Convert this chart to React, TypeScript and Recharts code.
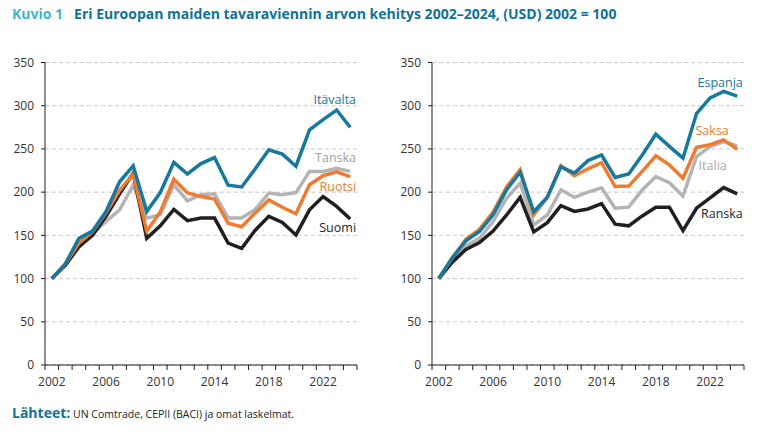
import { LineChart, Line, XAxis, YAxis, CartesianGrid, ReferenceDot } from "recharts";

const years = [
  2002, 2003, 2004, 2005, 2006, 2007, 2008, 2009, 2010, 2011, 2012, 2013,
  2014, 2015, 2016, 2017, 2018, 2019, 2020, 2021, 2022, 2023, 2024,
];

// vasen kuva
const itavalta = [100, 117, 146.5, 155, 177.5, 212, 230.5, 177.5, 199.5, 234.5, 221, 233, 240, 208, 206, 227, 249, 244, 230, 272, 284, 295, 275];
const tanska = [100, 115, 136, 152, 166, 179.5, 208, 170, 174, 208.5, 190, 197, 198, 170, 170, 180, 199, 197, 199.5, 224, 224, 227.5, 224];
const ruotsi = [100, 117, 141, 154, 176, 202, 221, 155, 177, 215, 199, 195, 192, 164, 160, 176, 191, 182.5, 175, 208.5, 219, 223.5, 218];
const suomi = [100, 115.5, 137, 150, 172, 198, 222, 146.5, 161, 180, 167, 170, 170, 141, 135, 156, 172, 165, 150.5, 179.5, 195, 183.5, 169];

// oikea kuva
const espanja = [100, 124, 143.8, 154.4, 173.7, 202.7, 223, 177.5, 194, 229.3, 222, 236.5, 243, 217, 221, 243, 267, 253, 239.3, 291, 309, 316.5, 311];
const saksa = [100, 124, 145.5, 157, 177, 206, 226, 173.7, 194, 230.6, 219, 227, 234, 206.5, 207, 224, 242, 231.5, 216, 252, 255, 260.5, 249.7];
const italia = [100, 121, 138, 146.5, 166, 193, 210.5, 162, 173.6, 202.7, 194, 200, 205, 181.4, 182.6, 202.6, 218, 211, 195.5, 241, 252.8, 258.5, 253.6];
const ranska = [100, 119, 133.7, 141.6, 155, 173.6, 194, 154, 164.7, 184.5, 177.7, 180.5, 186.7, 163, 161, 172.5, 182.6, 182.6, 155.5, 181.4, 193.5, 205.3, 198];

const yTicks = [0, 50, 100, 150, 200, 250, 300, 350];
const xLabelYears = [2002, 2006, 2010, 2014, 2018, 2022];

const TEAL = "#17799d";
const ORANGE = "#ee7b30";
const GRAY = "#b4b4b4";
const BLACK = "#231f20";
const FONT = "'Open Sans', sans-serif";

const CHART_W = 380;
const CHART_H = 400;
const MARGIN = { top: 62.5, right: 23, bottom: 5, left: 0 };
const Y_W = 45;
const PLOT_W = CHART_W - MARGIN.right - MARGIN.left - Y_W;
const BAND = PLOT_W / years.length;

const boundaryTicks = [...years.map((y) => y - 0.5), years[years.length - 1] + 0.5];

const XTick = (props: any) => {
  const { x, y, payload } = props;
  const year = payload.value + 0.5;
  if (!xLabelYears.includes(year)) return null;
  return (
    <text x={x + BAND / 2} y={y} dy="0.71em" textAnchor="middle" fill="#333" fontSize={12} fontFamily={FONT}>
      {year}
    </text>
  );
};

type Series = { name: string; values: number[]; color: string };
type Tag = { text: string; color: string; x: number; y: number };

const EndLabel = (text: string, color: string) => (props: any) => (
  <text
    x={props.cx}
    y={props.cy}
    textAnchor="end"
    dominantBaseline="central"
    fill={color}
    fontSize={12.5}
    fontFamily={FONT}
  >
    {text}
  </text>
);

const Panel = ({ series, tags, left }: { series: Series[]; tags: Tag[]; left: number }) => {
  const data = years.map((year, i) => {
    const row: Record<string, number> = { year };
    series.forEach((s) => (row[s.name] = s.values[i]));
    return row;
  });
  return (
    <div style={{ position: "absolute", left, top: 0 }}>
      <LineChart width={CHART_W} height={CHART_H} data={data} margin={MARGIN}>
        <CartesianGrid vertical={false} stroke="#c8c8c8" strokeDasharray="4 3" />
        <XAxis
          dataKey="year"
          type="number"
          domain={[years[0] - 0.5, years[years.length - 1] + 0.5]}
          ticks={boundaryTicks}
          interval={0}
          height={30}
          tickSize={5}
          tickMargin={7}
          stroke={BLACK}
          tick={<XTick />}
        />
        <YAxis
          width={Y_W}
          domain={[0, 350]}
          ticks={yTicks}
          interval={0}
          tickSize={4}
          tickMargin={7}
          stroke={BLACK}
          tick={{ fill: "#333", fontSize: 12, fontFamily: FONT }}
        />
        {series.map((s) => (
          <Line
            key={s.name}
            dataKey={s.name}
            stroke={s.color}
            strokeWidth={3.5}
            dot={false}
            activeDot={false}
            isAnimationActive={false}
          />
        ))}
        {tags.map((t) => (
          <ReferenceDot key={t.text} x={t.x} y={t.y} r={0} shape={EndLabel(t.text, t.color)} />
        ))}
      </LineChart>
    </div>
  );
};

export default function App() {
  return (
    <div style={{ position: "absolute", left: 0, top: 0, width: 761, height: 434, background: "#fff", fontFamily: FONT }}>
      <div style={{ position: "absolute", left: 12, top: 4, fontSize: 14, fontWeight: 700, whiteSpace: "nowrap" }}>
        <span style={{ color: "#3db6cc" }}>Kuvio 1</span>
        <span style={{ color: "#0f7398", marginLeft: 11 }}>
          Eri Euroopan maiden tavaraviennin arvon kehitys 2002–2024, (USD) 2002 = 100
        </span>
      </div>
      <Panel
        left={0}
        series={[
          { name: "Tanska", values: tanska, color: GRAY },
          { name: "Suomi", values: suomi, color: BLACK },
          { name: "Ruotsi", values: ruotsi, color: ORANGE },
          { name: "Itävalta", values: itavalta, color: TEAL },
        ]}
        tags={[
          { text: "Itävalta", color: TEAL, x: 2024.43, y: 306.8 },
          { text: "Tanska", color: "#a0a0a0", x: 2024.43, y: 240 },
          { text: "Ruotsi", color: ORANGE, x: 2024.43, y: 207 },
          { text: "Suomi", color: BLACK, x: 2024.43, y: 159 },
        ]}
      />
      <Panel
        left={387}
        series={[
          { name: "Italia", values: italia, color: GRAY },
          { name: "Ranska", values: ranska, color: BLACK },
          { name: "Saksa", values: saksa, color: ORANGE },
          { name: "Espanja", values: espanja, color: TEAL },
        ]}
        tags={[
          { text: "Espanja", color: TEAL, x: 2024.41, y: 326.8 },
          { text: "Saksa", color: ORANGE, x: 2023.38, y: 271 },
          { text: "Italia", color: "#a8a8a8", x: 2023.23, y: 230.4 },
          { text: "Ranska", color: BLACK, x: 2024.41, y: 175.6 },
        ]}
      />
      <div style={{ position: "absolute", left: 12, top: 403, whiteSpace: "nowrap", color: "#222", fontSize: 10.5 }}>
        <span style={{ color: "#0f7398", fontWeight: 700, fontSize: 14 }}>Lähteet:</span>{" "}
        UN Comtrade, CEPII (BACI) ja omat laskelmat.
      </div>
    </div>
  );
}
